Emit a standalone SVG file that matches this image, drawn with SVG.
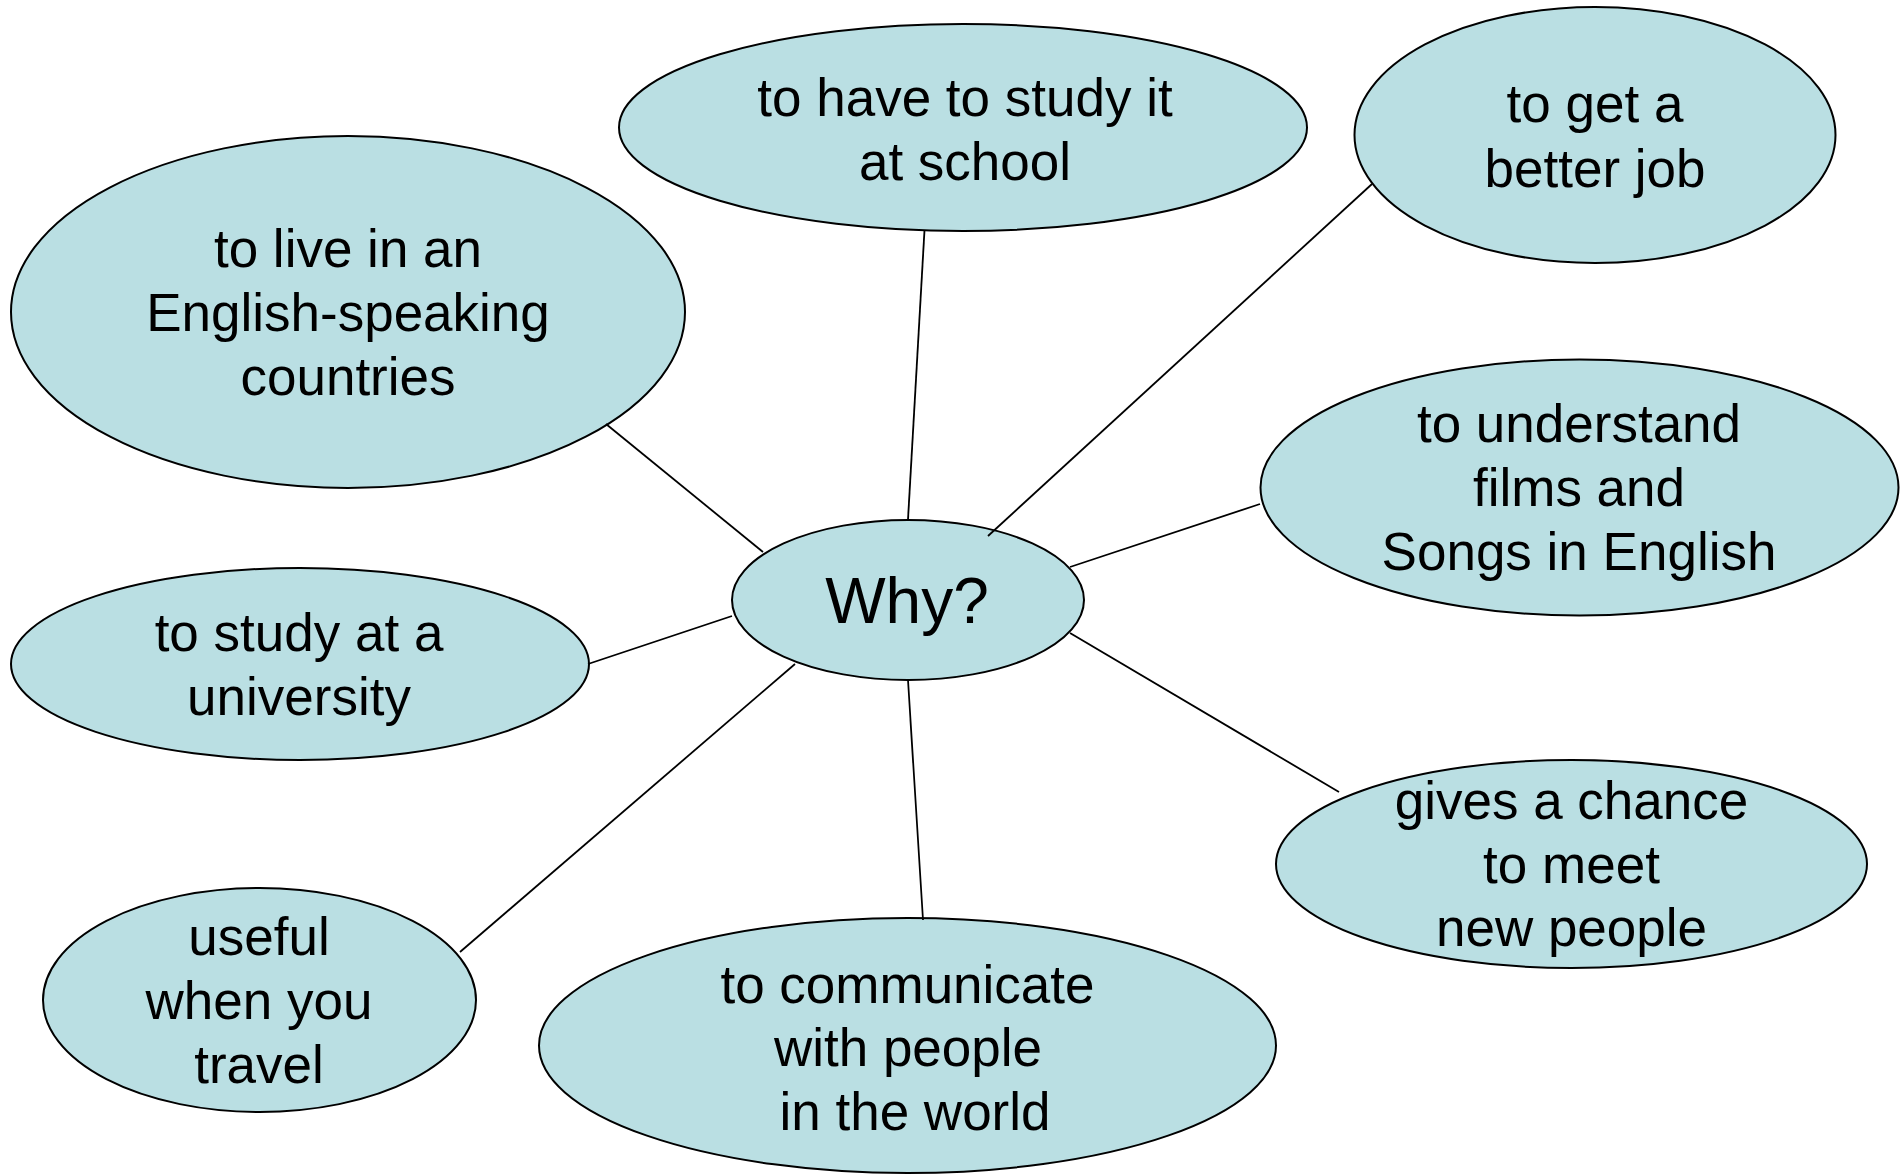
<svg xmlns="http://www.w3.org/2000/svg" width="1900" height="1175" viewBox="0 0 1900 1175">
<style>
.n ellipse{fill:#BADFE3;stroke:#000;stroke-width:2}
.n text{font-family:"Liberation Sans",Arial,sans-serif;font-size:53px;fill:#000;text-anchor:middle}
#why text{font-size:64px}
#edges line{stroke:#000;stroke-width:1.8}
</style>
<rect width="1900" height="1175" fill="#fff"/>
<g id="n-school" class="n"><ellipse cx="963" cy="127.5" rx="344" ry="103.5"/>
<text x="965" y="116">to have to study it</text><text x="965" y="180">at school</text></g>
<g id="n-job" class="n"><ellipse cx="1595" cy="135" rx="240.5" ry="128"/>
<text x="1595" y="122">to get a</text><text x="1595" y="187">better job</text></g>
<g id="n-live" class="n"><ellipse cx="348" cy="312" rx="337" ry="176"/>
<text x="348" y="267">to live in an</text><text x="348" y="331">English-speaking</text><text x="348" y="395">countries</text></g>
<g id="n-understand" class="n"><ellipse cx="1579.5" cy="487.5" rx="319" ry="128"/>
<text x="1579" y="442">to understand</text><text x="1579" y="506">films and</text><text x="1579" y="570">Songs in English</text></g>
<g id="why" class="n"><ellipse cx="908" cy="600" rx="176" ry="80"/>
<text x="907" y="623">Why?</text></g>
<g id="n-study" class="n"><ellipse cx="300" cy="664" rx="289" ry="96"/>
<text x="299" y="651">to study at a</text><text x="299" y="715">university</text></g>
<g id="n-gives" class="n"><ellipse cx="1571.5" cy="864" rx="295.5" ry="104"/>
<text x="1571.5" y="819">gives a chance</text><text x="1571.5" y="883">to meet</text><text x="1571.5" y="946">new people</text></g>
<g id="n-useful" class="n"><ellipse cx="259.5" cy="1000" rx="216.5" ry="112"/>
<text x="259" y="955">useful</text><text x="259" y="1019">when you</text><text x="259" y="1083">travel</text></g>
<g id="n-communicate" class="n"><ellipse cx="907.5" cy="1045.5" rx="368.5" ry="127.5"/>
<text x="907.5" y="1003">to communicate</text><text x="908" y="1066">with people</text><text x="915" y="1130">in the world</text></g>
<g id="edges">
<line x1="606" y1="424" x2="763" y2="552"/>
<line x1="924.5" y1="230" x2="908" y2="519.5"/>
<line x1="1372" y1="184" x2="988" y2="536"/>
<line x1="1260" y1="504" x2="1070" y2="567"/>
<line x1="588" y1="664" x2="732" y2="616"/>
<line x1="1070" y1="633" x2="1339" y2="792"/>
<line x1="795" y1="664" x2="460" y2="952"/>
<line x1="908" y1="680" x2="923" y2="920"/>
</g>
</svg>
